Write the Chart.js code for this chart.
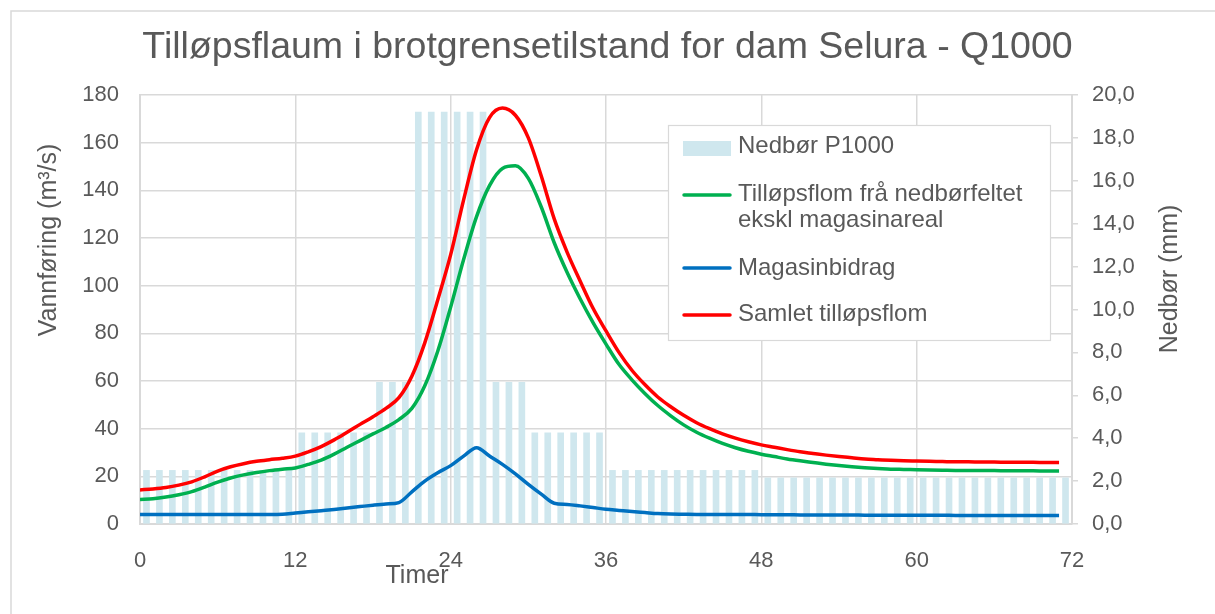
<!DOCTYPE html>
<html>
<head>
<meta charset="utf-8">
<script src="https://cdn.jsdelivr.net/npm/chart.js@4.4.1/dist/chart.umd.min.js"></script>
<style>
  html, body { margin: 0; padding: 0; background: #fff; }
  #wrap { width: 1215px; height: 614px; }
</style>
</head>
<body>
<div id="wrap"><canvas id="myChart" width="1215" height="614"></canvas></div>
<script>
// hourly series, index = hour 0..71
const hours = Array.from({ length: 72 }, (_, i) => i);

// precipitation per hour (mm)
const nedbor = [
  2.5, 2.5, 2.5, 2.5, 2.5, 2.5, 2.5, 2.5, 2.5, 2.5, 2.5, 2.5,
  4.25, 4.25, 4.25, 4.25, 4.25, 4.25,
  6.6, 6.6, 6.6,
  19.2, 19.2, 19.2, 19.2, 19.2, 19.2,
  6.6, 6.6, 6.6,
  4.25, 4.25, 4.25, 4.25, 4.25, 4.25,
  2.5, 2.5, 2.5, 2.5, 2.5, 2.5, 2.5, 2.5, 2.5, 2.5, 2.5, 2.5,
  2.15, 2.15, 2.15, 2.15, 2.15, 2.15, 2.15, 2.15, 2.15, 2.15, 2.15, 2.15,
  2.15, 2.15, 2.15, 2.15, 2.15, 2.15, 2.15, 2.15, 2.15, 2.15, 2.15, 2.15
];

// inflow from catchment, excluding reservoir area (m3/s)
const feltflom = [
  10.3, 10.6, 11.3, 12.3, 13.6, 15.5, 17.6, 19.3, 20.6, 21.6, 22.4, 23.0,
  23.5, 25.0, 26.8, 29.3, 32.2, 35.0, 37.8, 40.5, 43.8, 48.5, 58, 72.5,
  91, 111, 129, 142, 149.2, 150.3, 145, 133, 118, 105.5, 94.5, 84.5,
  75.5, 67, 60.5, 54.8, 49.7, 45.4, 41.6, 38.5, 36, 33.8, 32, 30.5,
  29.3, 28.3, 27.3, 26.5, 25.8, 25.1, 24.5, 24.0, 23.6, 23.3, 23.0, 22.9,
  22.8, 22.7, 22.6, 22.5, 22.5, 22.4, 22.4, 22.3, 22.3, 22.3, 22.2, 22.2
];

// reservoir contribution (m3/s)
const magasin = [
  4.0, 4.0, 4.0, 4.0, 4.0, 4.0, 4.0, 4.0, 4.0, 4.0, 4.0, 4.1,
  4.6, 5.1, 5.6, 6.1, 6.7, 7.3, 7.9, 8.4, 9.0, 13.5, 18.0, 21.5,
  24.5, 28.5, 32.0, 28.5, 25.0, 21.0, 16.6, 12.5, 8.7, 8.2, 7.6, 6.9,
  6.2, 5.7, 5.2, 4.8, 4.4, 4.2, 4.1, 4.0, 4.0, 4.0, 4.0, 4.0,
  3.9, 3.9, 3.9, 3.8, 3.8, 3.8, 3.8, 3.8, 3.7, 3.7, 3.7, 3.7,
  3.7, 3.7, 3.7, 3.6, 3.6, 3.6, 3.6, 3.6, 3.6, 3.6, 3.6, 3.6
];

// total inflow (m3/s)
const samlet = [
  14.3, 14.7, 15.3, 16.3, 17.7, 19.8, 22.2, 24.0, 25.3, 26.3, 27.0, 27.6,
  28.5, 30.3, 32.5, 35.3, 38.5, 41.8, 45.0, 48.5, 53, 62, 76, 94,
  113, 136, 157, 170.5, 174.5, 171.5, 162, 146, 128, 114, 102, 90.5,
  81, 72, 64.5, 58.5, 53.3, 49.2, 45.6, 42.5, 40, 37.8, 36, 34.5,
  33.2, 32.2, 31.2, 30.3, 29.6, 28.9, 28.3, 27.8, 27.3, 27.0, 26.7, 26.5,
  26.4, 26.3, 26.2, 26.1, 26.1, 26.0, 26.0, 25.9, 25.9, 25.9, 25.8, 25.8
];

const xTicks = [0, 12, 24, 36, 48, 60, 72];

const GREY = '#595959';
const GRID = '#d9d9d9';
const FONT = "'Liberation Sans', Arial, sans-serif";

const asLine = arr => hours.map((h, i) => ({ x: h, y: arr[i] }));
// each hourly bar sits in the middle of its hour
const asBars = arr => hours.map((h, i) => ({ x: h + 0.5, y: arr[i] }));

// frame, axis titles and the boxed legend
const extras = {
  id: 'extras',
  beforeDraw(chart) {
    const ctx = chart.ctx;
    ctx.save();
    ctx.fillStyle = '#fff';
    ctx.fillRect(0, 0, chart.width, chart.height);
    ctx.strokeStyle = GRID;
    ctx.lineWidth = 1.5;
    ctx.beginPath();
    ctx.moveTo(11, chart.height + 2);
    ctx.lineTo(11, 11);
    ctx.lineTo(chart.width + 2, 11);
    ctx.stroke();
    ctx.restore();
  },
  afterDraw(chart) {
    const ctx = chart.ctx;
    ctx.save();
    ctx.fillStyle = GREY;
    ctx.font = '25px ' + FONT;
    ctx.textAlign = 'center';
    ctx.textBaseline = 'alphabetic';

    const vText = (txt, x, y) => {
      ctx.save();
      ctx.translate(x, y);
      ctx.rotate(-Math.PI / 2);
      ctx.fillText(txt, 0, 0);
      ctx.restore();
    };
    vText('Vannføring (m³/s)', 56, 240);
    vText('Nedbør (mm)', 1177, 279);
    ctx.fillText('Timer', 417, 583);

    // legend
    const lg = { x: 668, y: 125, w: 382, h: 215 };
    ctx.fillStyle = '#fff';
    ctx.fillRect(lg.x, lg.y, lg.w, lg.h);
    ctx.strokeStyle = GRID;
    ctx.lineWidth = 1.2;
    ctx.strokeRect(lg.x + 0.5, lg.y + 0.5, lg.w, lg.h);

    const ds = chart.data.datasets;
    const rows = [
      { d: ds[3], mark: 148, base: [153] },
      { d: ds[2], mark: 195, base: [201, 227] },
      { d: ds[1], mark: 268, base: [275] },
      { d: ds[0], mark: 315, base: [321] }
    ];
    ctx.font = '24px ' + FONT;
    ctx.textAlign = 'left';
    rows.forEach(r => {
      if (r.d.type === 'bar') {
        ctx.fillStyle = r.d.backgroundColor;
        ctx.fillRect(683, r.mark - 7, 48, 15);
      } else {
        ctx.strokeStyle = r.d.borderColor;
        ctx.lineWidth = 3.5;
        ctx.lineCap = 'round';
        ctx.beginPath();
        ctx.moveTo(684, r.mark);
        ctx.lineTo(730, r.mark);
        ctx.stroke();
      }
      ctx.fillStyle = GREY;
      const lines = r.d.legendLines || [r.d.label];
      lines.forEach((t, k) => ctx.fillText(t, 738, r.base[k]));
    });
    ctx.restore();
  }
};

const config = {
  data: {
    datasets: [
      {
        type: 'line',
        label: 'Samlet tilløpsflom',
        data: asLine(samlet),
        borderColor: '#ff0000',
        borderWidth: 3.5,
        pointRadius: 0,
        cubicInterpolationMode: 'monotone',
        yAxisID: 'y',
        order: 0
      },
      {
        type: 'line',
        label: 'Magasinbidrag',
        data: asLine(magasin),
        borderColor: '#0070c0',
        borderWidth: 3.5,
        pointRadius: 0,
        cubicInterpolationMode: 'monotone',
        yAxisID: 'y',
        order: 1
      },
      {
        type: 'line',
        label: 'Tilløpsflom frå nedbørfeltet ekskl magasinareal',
        legendLines: ['Tilløpsflom frå nedbørfeltet', 'ekskl magasinareal'],
        data: asLine(feltflom),
        borderColor: '#00b050',
        borderWidth: 3.5,
        pointRadius: 0,
        cubicInterpolationMode: 'monotone',
        yAxisID: 'y',
        order: 2
      },
      {
        type: 'bar',
        label: 'Nedbør P1000',
        data: asBars(nedbor),
        backgroundColor: '#cfe7ee',
        borderWidth: 0,
        barThickness: 6,
        yAxisID: 'y1',
        order: 3
      }
    ]
  },
  options: {
    responsive: false,
    animation: false,
    layout: { padding: 0 },
    plugins: {
      legend: { display: false },
      tooltip: { enabled: false },
      title: {
        display: true,
        text: 'Tilløpsflaum i brotgrensetilstand for dam Selura - Q1000',
        color: GREY,
        font: { family: FONT, size: 37.5, weight: 'normal' },
        padding: { top: 25, bottom: 25 }
      }
    },
    scales: {
      x: {
        type: 'linear',
        offset: false,
        min: 0,
        max: 72,
        afterBuildTicks: s => { s.ticks = xTicks.map(v => ({ value: v })); },
        ticks: { color: GREY, font: { family: FONT, size: 22 }, padding: 24, maxRotation: 0 },
        grid: { color: GRID, lineWidth: 1.5, drawTicks: false, offset: false },
        border: { color: GRID, width: 2 },
        afterFit: s => { s.height = 90; }
      },
      y: {
        position: 'left',
        min: 0,
        max: 180,
        ticks: { stepSize: 20, color: GREY, font: { family: FONT, size: 22 }, padding: 21 },
        grid: { color: GRID, lineWidth: 1.5, drawTicks: false },
        border: { color: GRID, width: 2 },
        afterFit: s => { s.width = 140; }
      },
      y1: {
        position: 'right',
        min: 0,
        max: 20,
        ticks: {
          stepSize: 2,
          color: GREY,
          font: { family: FONT, size: 22 },
          padding: 14,
          callback: v => v.toFixed(1).replace('.', ',')
        },
        grid: { drawOnChartArea: false, color: GRID, tickLength: 6, lineWidth: 1.5 },
        border: { color: GRID, width: 2 },
        afterFit: s => { s.width = 143; }
      }
    }
  },
  plugins: [extras]
};

const myChart = new Chart(document.getElementById('myChart'), config);
</script>
</body>
</html>
